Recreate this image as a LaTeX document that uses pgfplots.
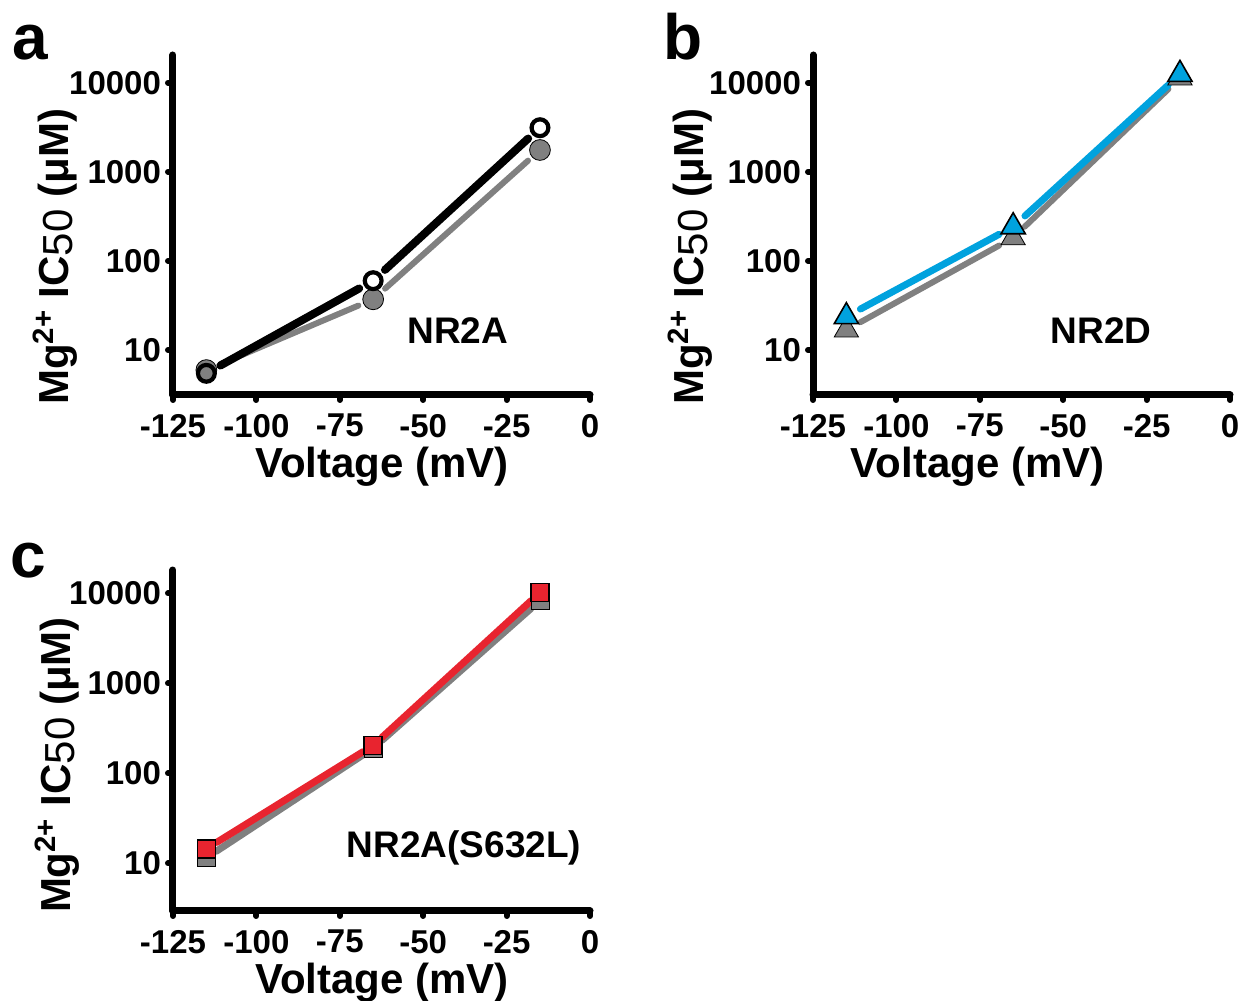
\documentclass[border=0pt]{standalone}
\usepackage{fontspec}
\setmainfont{Liberation Sans}
\usepackage{pgfplots}
\pgfplotsset{compat=1.18}
\definecolor{grayc}{RGB}{128,128,128}
\definecolor{bluec}{RGB}{0,162,222}
\definecolor{redc}{RGB}{232,36,47}
\pgfplotsset{
 panel/.style={
  scale only axis, width=208.5pt, height=170pt,
  xmin=-125, xmax=0, ymin=3.13, ymax=20470,
  axis lines=left, axis line style={line width=3.5pt, line cap=round, -},
  xtick={-125,-100,-75,-50,-25,0}, xticklabels={-125,-100,-75,-50,-25,0},
  ytick={10,100,1000,10000}, yticklabels={10,100,1000,10000},
  xminorticks=false, yminorticks=false,
  tick align=outside, major tick length=2.5pt,
  tick style={line width=3pt, line cap=round, black},
  ticklabel style={font=\fontsize{16.5}{19}\selectfont\bfseries},
  xticklabel style={yshift=-3.5pt},
  label style={font=\fontsize{21}{25}\selectfont\bfseries},
  xlabel={Voltage (mV)},
  ylabel={Mg\textsuperscript{2+} IC\raisebox{-0.1em}{\mdseries 50} (μM)},
  xlabel style={at={(axis description cs:0.501,-0.21)}, anchor=center},
  ylabel style={at={(axis description cs:-0.283,0.406)}, anchor=center},
  clip=false,
 },
 seg/.style={line width=#1, line cap=round, shorten <=8pt, shorten >=8pt},
}
\begin{document}
\begin{tikzpicture}
\useasboundingbox (0pt,0pt) rectangle (621.5pt,500.5pt);
% panel letters
\node[anchor=base west, inner sep=0pt, font=\fontsize{32}{36}\selectfont\bfseries] at (6pt,470.5pt) {a};
\node[anchor=base west, inner sep=0pt, font=\fontsize{32}{36}\selectfont\bfseries] at (331.5pt,470.5pt) {b};
\node[anchor=base west, inner sep=0pt, font=\fontsize{32}{36}\selectfont\bfseries] at (5pt,211.5pt) {c};

% ---------------- panel a
\begin{semilogyaxis}[panel, at={(86.5pt,303pt)}, anchor=south west]
\addplot[grayc, seg=3pt] coordinates {(-115,5.96) (-65,37.1)};
\addplot[grayc, seg=3pt] coordinates {(-65,37.1) (-15,1758)};
\addplot[only marks, mark=*, mark size=5.2pt, mark options={fill=grayc, draw=none}] coordinates {(-115,5.96) (-65,37.1) (-15,1758)};
\addplot[black, seg=4pt] coordinates {(-115,5.48) (-65,60)};
\addplot[black, seg=4pt] coordinates {(-65,60) (-15,3125)};
\addplot[only marks, mark=o, mark size=4.2pt, mark options={draw=black, line width=2.1pt, fill=none}] coordinates {(-115,5.48) (-65,60) (-15,3125)};
\node[font=\fontsize{18.5}{22}\selectfont\bfseries] at (axis description cs:0.683,0.188) {NR2A};
\end{semilogyaxis}

% ---------------- panel b
\begin{semilogyaxis}[panel, at={(406.5pt,303pt)}, anchor=south west,
  xlabel style={at={(axis description cs:0.395,-0.21)}, anchor=center},
  ylabel style={at={(axis description cs:-0.294,0.406)}, anchor=center}]
\addplot[grayc, seg=3pt] coordinates {(-115,16.8) (-65,182)};
\addplot[grayc, seg=3pt] coordinates {(-65,182) (-15,11300)};
\addplot[only marks, mark=triangle*, mark size=7pt, mark options={fill=grayc, draw=none}] coordinates {(-115,16.8) (-65,182) (-15,11300)};
\addplot[bluec, seg=3.5pt] coordinates {(-115,23.7) (-65,242)};
\addplot[bluec, seg=3.5pt] coordinates {(-65,242) (-15,12400)};
\addplot[only marks, mark=triangle*, mark size=7pt, mark options={fill=bluec, draw=black, line width=0.8pt}] coordinates {(-115,23.7) (-65,242) (-15,12400)};
\node[font=\fontsize{18.5}{22}\selectfont\bfseries] at (axis description cs:0.691,0.188) {NR2D};
\end{semilogyaxis}

% ---------------- panel c
\begin{semilogyaxis}[panel, at={(86.5pt,45pt)}, anchor=south west, height=170.5pt, ymin=2.95, ymax=18150,
  xlabel style={at={(axis description cs:0.501,-0.21)}, anchor=center},
  ylabel style={at={(axis description cs:-0.278,0.428)}, anchor=center}]
\addplot[grayc, seg=3.5pt, shorten <=6pt, shorten >=6pt] coordinates {(-115,11.5) (-65,190)};
\addplot[grayc, seg=3.5pt, shorten <=6pt, shorten >=6pt] coordinates {(-65,190) (-15,8300)};
\addplot[only marks, mark=square*, mark size=4.5pt, mark options={fill=grayc, draw=none}] coordinates {(-115,11.5) (-65,190) (-15,8300)};
\addplot[redc, seg=3.5pt, shorten <=6pt, shorten >=6pt] coordinates {(-115,14.5) (-65,204)};
\addplot[redc, seg=3.5pt, shorten <=6pt, shorten >=6pt] coordinates {(-65,204) (-15,10200)};
\addplot[only marks, mark=square*, mark size=4.5pt, mark options={fill=redc, draw=black, line width=0.8pt}] coordinates {(-115,14.5) (-65,204) (-15,10200)};
\node[font=\fontsize{18.5}{22}\selectfont\bfseries] at (axis description cs:0.698,0.185) {NR2A(S632L)};
\end{semilogyaxis}
\end{tikzpicture}
\end{document}
